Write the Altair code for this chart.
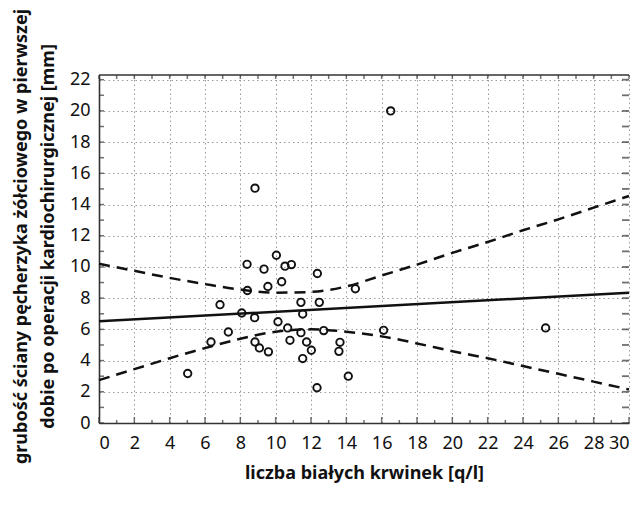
import altair as alt
import pandas as pd

# ---- data ----
wbc = [8.83, 8.38, 10.04, 9.34, 10.53, 10.89, 12.36, 10.34, 9.56, 8.40,
       14.51, 6.85, 11.43, 12.47, 8.08, 11.53, 8.81, 10.13, 7.32, 10.68,
       11.43, 12.72, 6.34, 8.83, 10.81, 11.75, 13.64, 9.08, 9.59, 12.02,
       13.58, 11.53, 5.02, 14.11, 12.34, 16.51, 25.28, 16.11]
thickness = [15.05, 10.17, 10.75, 9.86, 10.05, 10.15, 9.58, 9.05, 8.75, 8.49,
             8.60, 7.58, 7.73, 7.73, 7.05, 6.98, 6.75, 6.49, 5.83, 6.09,
             5.79, 5.92, 5.19, 5.19, 5.30, 5.19, 5.17, 4.81, 4.56, 4.66,
             4.59, 4.13, 3.17, 3.00, 2.26, 20.0, 6.09, 5.94]

fit_x = [0, 30]
fit_y = [6.52, 8.35]

band_x = [0, 2, 4, 6, 8, 10, 12, 14, 16, 18, 20, 22, 24, 26, 28, 30]
band_upper = [10.2, 9.75, 9.3, 8.9, 8.55, 8.35, 8.4, 8.75, 9.45, 10.15,
              10.9, 11.6, 12.35, 13.05, 13.8, 14.55]
band_lower = [2.75, 3.45, 4.15, 4.8, 5.4, 5.85, 6.0, 5.85, 5.55, 5.1,
              4.6, 4.15, 3.65, 3.15, 2.65, 2.15]

x_ticks = list(range(0, 31, 2))
y_ticks = list(range(0, 23, 2))
x_units = list(range(0, 31))
y_units = list(range(0, 23))
x_max = 30
y_max = 22.3

x_title = "liczba białych krwinek [q/l]"
y_title = ["grubość ściany pęcherzyka żółciowego w pierwszej",
           "dobie po operacji kardiochirurgicznej [mm]"]

# ---- tables ----
pts = pd.DataFrame({"x": wbc, "y": thickness})
fit = pd.DataFrame({"x": fit_x, "y": fit_y})
bands = pd.concat([
    pd.DataFrame({"x": band_x, "y": band_upper, "b": "upper"}),
    pd.DataFrame({"x": band_x, "y": band_lower, "b": "lower"}),
])
bottom_major = pd.DataFrame({"x": x_ticks, "y": 0})
bottom_minor = pd.DataFrame({"x": [v for v in x_units if v % 2], "y": 0})
top_ticks = pd.DataFrame({"x": x_units, "y": y_max})
left_ticks = pd.DataFrame({"x": 0, "y": y_units})
right_ticks = pd.DataFrame({"x": x_max, "y": y_units})
top_line = pd.DataFrame({"x": [0], "x2": [x_max], "y": [y_max]})

FONT = "Noto Sans"
AX = "#333333"

xs = alt.Scale(domain=[0, x_max], nice=False, zero=False)
ys = alt.Scale(domain=[0, y_max], nice=False, zero=False)

xaxis = alt.Axis(values=x_ticks, title=x_title, grid=True, gridDash=[1.5, 3],
                 gridColor="#9a9a9a", gridWidth=1, ticks=False, tickSize=0,
                 domain=True, domainColor=AX, domainWidth=1.6,
                 labelFont=FONT, labelFontSize=18, labelColor="#111",
                 labelPadding=11, titleFont=FONT, titleFontSize=18,
                 titleFontWeight="bold", titleColor="#111", titlePadding=12)
yaxis = alt.Axis(values=y_ticks, title=y_title, grid=True, gridDash=[1.5, 3],
                 gridColor="#9a9a9a", gridWidth=1, ticks=False, tickSize=0,
                 domain=True, domainColor=AX, domainWidth=1.6,
                 labelFont=FONT, labelFontSize=18, labelColor="#111",
                 labelPadding=9, titleFont=FONT, titleFontSize=18,
                 titleFontWeight="bold", titleColor="#111", titlePadding=12,
                 titleLineHeight=27, titleY=161)

X = alt.X("x:Q", scale=xs, axis=xaxis)
Y = alt.Y("y:Q", scale=ys, axis=yaxis)

points = alt.Chart(pts).mark_point(shape="circle", filled=False, size=55,
                                   strokeWidth=1.9, color="#111",
                                   opacity=1).encode(x=X, y=Y)
line = alt.Chart(fit).mark_line(color="#111", strokeWidth=2.5).encode(x=X, y=Y)
band = alt.Chart(bands).mark_line(color="#111", strokeWidth=2.5,
                                  strokeDash=[11, 7],
                                  interpolate="monotone").encode(
    x=X, y=Y, detail="b:N")

bmaj = alt.Chart(bottom_major).mark_tick(orient="vertical", size=6, thickness=1.5,
                                         yOffset=-3, color=AX).encode(x=X, y=Y)
bmin = alt.Chart(bottom_minor).mark_tick(orient="vertical", size=3, thickness=1.5,
                                         yOffset=-1.5, color=AX).encode(x=X, y=Y)
tt = alt.Chart(top_ticks).mark_tick(orient="vertical", size=4, thickness=1.5,
                                    yOffset=2, color=AX).encode(x=X, y=Y)
lt = alt.Chart(left_ticks).mark_tick(orient="horizontal", size=5, thickness=1.5,
                                     xOffset=2.5, color=AX).encode(x=X, y=Y)
rt = alt.Chart(right_ticks).mark_tick(orient="horizontal", size=7, thickness=1.8,
                                      xOffset=-3.5, color=AX).encode(x=X, y=Y)
tl = alt.Chart(top_line).mark_rule(color=AX, strokeWidth=1.6).encode(
    x=X, x2="x2:Q", y=Y)

chart = alt.layer(points, band, line, bmaj, bmin, tt, lt, rt, tl).properties(
    width=530, height=348,
    autosize=alt.AutoSizeParams(type="none"),
    padding={"left": 91, "top": 67, "right": 1, "bottom": 74},
    background="white",
).configure_view(stroke=None)

chart.save("out.html", embed_options={"renderer": "svg", "actions": False})
